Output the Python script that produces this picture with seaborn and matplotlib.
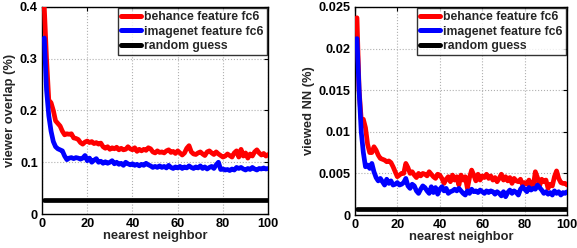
import matplotlib

matplotlib.use("Agg")

import matplotlib.pyplot as plt
import numpy as np
import pandas as pd
import seaborn as sns

NEIGHBORS = list(range(1, 101))

OVERLAP_BEHANCE = [
    0.400, 0.300, 0.220, 0.215, 0.200, 0.180, 0.175, 0.170, 0.160, 0.153,
    0.155, 0.154, 0.155, 0.147, 0.146, 0.144, 0.138, 0.135, 0.139, 0.141,
    0.138, 0.140, 0.136, 0.138, 0.135, 0.137, 0.130, 0.127, 0.130, 0.125,
    0.128, 0.126, 0.129, 0.124, 0.127, 0.124, 0.125, 0.130, 0.126, 0.124,
    0.128, 0.121, 0.125, 0.122, 0.125, 0.123, 0.128, 0.126, 0.120, 0.118,
    0.122, 0.119, 0.120, 0.118, 0.122, 0.124, 0.119, 0.121, 0.117, 0.122,
    0.118, 0.114, 0.118, 0.127, 0.132, 0.120, 0.116, 0.115, 0.118, 0.120,
    0.116, 0.113, 0.120, 0.122, 0.118, 0.115, 0.120, 0.116, 0.113, 0.110,
    0.112, 0.116, 0.113, 0.110, 0.118, 0.122, 0.110, 0.125, 0.112, 0.118,
    0.108, 0.116, 0.112, 0.120, 0.124, 0.118, 0.114, 0.117, 0.112, 0.115,
]
OVERLAP_IMAGENET = [
    0.340, 0.240, 0.190, 0.160, 0.140, 0.130, 0.126, 0.124, 0.122, 0.112,
    0.105, 0.108, 0.109, 0.107, 0.109, 0.108, 0.106, 0.108, 0.113, 0.103,
    0.108, 0.100, 0.104, 0.107, 0.100, 0.102, 0.098, 0.101, 0.098, 0.100,
    0.103, 0.097, 0.100, 0.096, 0.098, 0.094, 0.100, 0.097, 0.095, 0.097,
    0.094, 0.096, 0.093, 0.096, 0.094, 0.098, 0.095, 0.093, 0.090, 0.092,
    0.090, 0.093, 0.090, 0.092, 0.089, 0.094, 0.090, 0.088, 0.091, 0.089,
    0.092, 0.088, 0.091, 0.089, 0.093, 0.090, 0.088, 0.091, 0.089, 0.093,
    0.088, 0.091, 0.087, 0.090, 0.092, 0.088, 0.095, 0.100, 0.086, 0.087,
    0.085, 0.086, 0.084, 0.087, 0.085, 0.090, 0.088, 0.090, 0.087, 0.085,
    0.088, 0.086, 0.090, 0.087, 0.085, 0.088, 0.087, 0.089, 0.087, 0.088,
]
OVERLAP_RANDOM = 0.027

VIEWED_BEHANCE = [
    0.0237, 0.0150, 0.0115, 0.0115, 0.0105, 0.0085, 0.0075, 0.0075, 0.0082, 0.0078,
    0.0072, 0.0068, 0.0067, 0.0066, 0.0064, 0.0065, 0.0063, 0.0058, 0.0052, 0.0046,
    0.0048, 0.0050, 0.0050, 0.0062, 0.0057, 0.0050, 0.0052, 0.0048, 0.0045, 0.0050,
    0.0047, 0.0050, 0.0049, 0.0047, 0.0052, 0.0049, 0.0046, 0.0044, 0.0049, 0.0048,
    0.0044, 0.0038, 0.0043, 0.0046, 0.0040, 0.0048, 0.0042, 0.0046, 0.0036, 0.0048,
    0.0042, 0.0046, 0.0032, 0.0045, 0.0054, 0.0048, 0.0041, 0.0049, 0.0042, 0.0047,
    0.0045, 0.0049, 0.0044, 0.0047, 0.0042, 0.0045, 0.0040, 0.0044, 0.0049, 0.0042,
    0.0046, 0.0041, 0.0045, 0.0038, 0.0044, 0.0041, 0.0040, 0.0043, 0.0036, 0.0039,
    0.0037, 0.0042, 0.0036, 0.0034, 0.0052, 0.0045, 0.0035, 0.0043, 0.0040, 0.0042,
    0.0032, 0.0037, 0.0035, 0.0046, 0.0053, 0.0044, 0.0039, 0.0038, 0.0038, 0.0036,
]
VIEWED_IMAGENET = [
    0.0212, 0.0150, 0.0100, 0.0075, 0.0058, 0.0060, 0.0056, 0.0062, 0.0052, 0.0045,
    0.0041, 0.0044, 0.0040, 0.0036, 0.0043, 0.0038, 0.0041, 0.0036, 0.0037, 0.0039,
    0.0036, 0.0037, 0.0039, 0.0044, 0.0035, 0.0032, 0.0037, 0.0035, 0.0029, 0.0026,
    0.0031, 0.0035, 0.0033, 0.0029, 0.0026, 0.0034, 0.0027, 0.0033, 0.0025, 0.0031,
    0.0034, 0.0029, 0.0032, 0.0026, 0.0028, 0.0029, 0.0031, 0.0029, 0.0032, 0.0029,
    0.0026, 0.0024, 0.0029, 0.0026, 0.0031, 0.0028, 0.0029, 0.0027, 0.0030, 0.0028,
    0.0026, 0.0029, 0.0027, 0.0029, 0.0028, 0.0025, 0.0028, 0.0026, 0.0023, 0.0028,
    0.0022, 0.0027, 0.0030, 0.0026, 0.0029, 0.0027, 0.0024, 0.0031, 0.0034, 0.0031,
    0.0028, 0.0033, 0.0030, 0.0032, 0.0031, 0.0036, 0.0033, 0.0030, 0.0026, 0.0028,
    0.0025, 0.0027, 0.0024, 0.0029, 0.0026, 0.0028, 0.0024, 0.0027, 0.0026, 0.0028,
]
VIEWED_RANDOM = 0.0007

SERIES_NAMES = ["behance feature fc6", "imagenet feature fc6", "random guess"]
PALETTE = {"behance feature fc6": "#ff0000", "imagenet feature fc6": "#0000ff", "random guess": "#000000"}


def build_frame(behance, imagenet, random_value) -> pd.DataFrame:
    values = {
        SERIES_NAMES[0]: behance,
        SERIES_NAMES[1]: imagenet,
        SERIES_NAMES[2]: [random_value] * len(NEIGHBORS),
    }
    frames = [pd.DataFrame({"k": NEIGHBORS, "value": v, "series": name}) for name, v in values.items()]
    return pd.concat(frames, ignore_index=True)


def draw_panel(ax, data, ylabel, ylim, yticks, yticklabels) -> None:
    sns.lineplot(data=data, x="k", y="value", hue="series", hue_order=SERIES_NAMES,
                 palette=PALETTE, linewidth=3.4, ax=ax, legend=True, zorder=3)
    ax.set_xlim(0, 100)
    ax.set_ylim(*ylim)
    ax.set_xticks([0, 20, 40, 60, 80, 100])
    ax.set_yticks(yticks)
    ax.set_yticklabels(yticklabels)
    ax.set_xlabel("nearest neighbor", fontweight="bold", fontsize=9.3, labelpad=0)
    ax.set_ylabel(ylabel, fontweight="bold", fontsize=9.3, labelpad=3)
    ax.grid(True, linestyle=":", color="#b0b0b0", linewidth=0.8)
    ax.tick_params(direction="in", length=3, width=0.8, labelsize=9.2,
                   top=True, right=True, colors="black")
    ax.tick_params(axis="x", pad=3)
    ax.tick_params(axis="y", pad=3)
    for label in ax.get_xticklabels() + ax.get_yticklabels():
        label.set_fontweight("bold")
    for spine in ax.spines.values():
        spine.set_color("black")
        spine.set_linewidth(1.0)
    leg = ax.legend(loc="upper right", frameon=True, fancybox=False,
                    borderpad=0.25, labelspacing=0.2, handlelength=1.6, handletextpad=0.3,
                    borderaxespad=0.1, prop={"weight": "bold", "size": 8.8})
    leg.get_frame().set_edgecolor("black")
    leg.get_frame().set_linewidth(1.0)
    for line in leg.get_lines():
        line.set_linewidth(3.6)


def main() -> int:
    sns.set_theme(style="white")
    plt.rcParams["font.family"] = ["Liberation Sans", "DejaVu Sans"]

    fig = plt.figure(figsize=(5.77, 2.48), dpi=100)
    ax_left = fig.add_axes([0.0728, 0.137, 0.392, 0.835])
    ax_right = fig.add_axes([0.615, 0.133, 0.368, 0.839])

    draw_panel(ax_left, build_frame(OVERLAP_BEHANCE, OVERLAP_IMAGENET, OVERLAP_RANDOM),
               "viewer overlap (%)", (0, 0.4), [0, 0.1, 0.2, 0.3, 0.4],
               ["0", "0.1", "0.2", "0.3", "0.4"])
    draw_panel(ax_right, build_frame(VIEWED_BEHANCE, VIEWED_IMAGENET, VIEWED_RANDOM),
               "viewed NN (%)", (0, 0.025), [0, 0.005, 0.01, 0.015, 0.02, 0.025],
               ["0", "0.005", "0.01", "0.015", "0.02", "0.025"])

    fig.savefig("out.png", dpi=100)
    plt.close(fig)
    return 0


if __name__ == "__main__":
    raise SystemExit(main())
